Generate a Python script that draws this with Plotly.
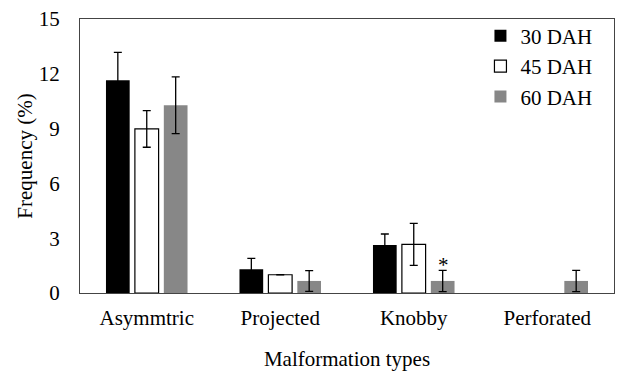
import plotly.graph_objects as go

categories = ["Asymmtric", "Projected", "Knobby", "Perforated"]
series_names = ["30 DAH", "45 DAH", "60 DAH"]
dah30 = [11.65, 1.3, 2.63, None]
dah45 = [8.98, 1.0, 2.66, None]
dah60 = [10.28, 0.66, 0.66, 0.66]
err30 = [1.52, 0.6, 0.6, None]
err45 = [1.0, None, 1.15, None]
err60 = [1.55, 0.57, 0.58, 0.58]
y_ticks = [0, 3, 6, 9, 12, 15]

FONT = "'Liberation Serif', 'Times New Roman', Times, serif"
FS = 21

fig = go.Figure()
styles = [
    dict(color="#000000", line=dict(color="#000000", width=0)),
    dict(color="#ffffff", line=dict(color="#000000", width=1.2)),
    dict(color="#878787", line=dict(color="#878787", width=0)),
]
for name, vals, errs, st in zip(series_names, [dah30, dah45, dah60], [err30, err45, err60], styles):
    fig.add_trace(go.Bar(
        x=categories, y=vals, name=name, marker=st,
        error_y=dict(type="data", array=errs, visible=True, color="#000000", thickness=1.3, width=4),
    ))

# significance marker above 60 DAH Knobby bar
fig.add_annotation(x="Knobby", y=dah60[2] + err60[2], text="*", showarrow=False,
                   xshift=30, yshift=5, font=dict(family=FONT, size=FS, color="#000000"))

fig.update_layout(
    width=618, height=372,
    margin=dict(l=80, r=4, t=19, b=79),
    paper_bgcolor="white", plot_bgcolor="white",
    barmode="group", bargap=0.35, bargroupgap=0.18,
    font=dict(family=FONT, size=FS, color="#000000"),
    legend=dict(x=0.969, y=1.012, xanchor="right", yanchor="top",
                font=dict(family=FONT, size=FS), bgcolor="rgba(0,0,0,0)",
                itemwidth=30, tracegroupgap=0),
    showlegend=True,
)
fig.update_xaxes(title=dict(text="Malformation types", font=dict(family=FONT, size=FS), standoff=22),
                 showline=True, linecolor="#444444", linewidth=1.2, mirror=True,
                 ticks="outside", ticklen=6, tickcolor="rgba(0,0,0,0)",
                 showgrid=False, tickfont=dict(family=FONT, size=FS))
fig.update_yaxes(title=dict(text="Frequency (%)", font=dict(family=FONT, size=FS), standoff=0),
                 range=[0, 15], tickvals=y_ticks, showline=True, linecolor="#444444", linewidth=1.2,
                 mirror=True, ticks="outside", ticklen=15, tickcolor="rgba(0,0,0,0)",
                 showgrid=False, zeroline=False,
                 tickfont=dict(family=FONT, size=FS))

fig.write_html("out.html")
